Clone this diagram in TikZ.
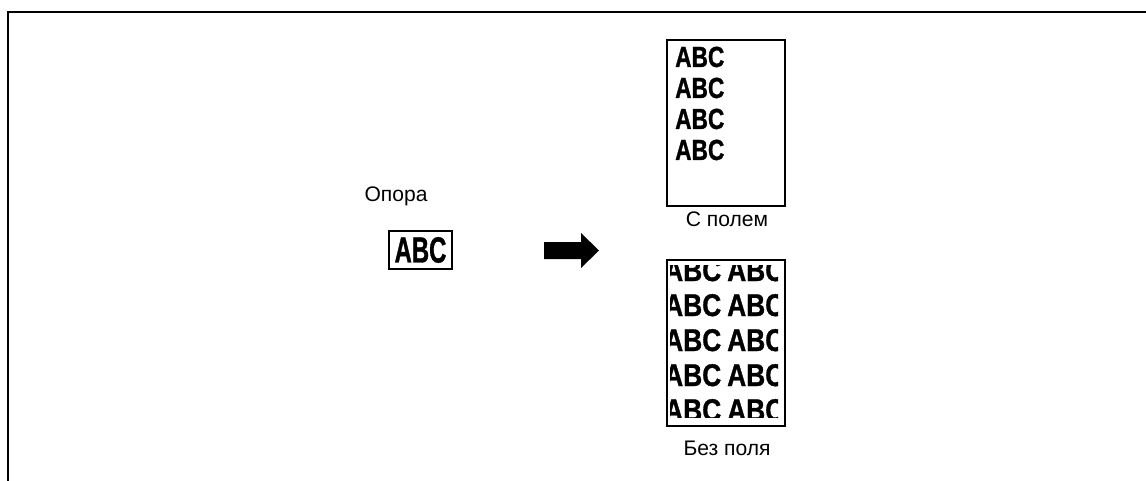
\documentclass[tikz,border=0pt]{standalone}
\usepackage{fontspec}
\setmainfont{Liberation Sans}
\newfontface\heavyfont[FakeBold=1.2]{Liberation Sans Bold}
\definecolor{inkblack}{HTML}{000000}

\begin{document}
\begin{tikzpicture}[x=0.75pt, y=-0.75pt, inkblack,
    caption/.style={font=\fontsize{15.8}{18}\selectfont, anchor=base, inner sep=0pt},
    sample/.style={font=\heavyfont\fontsize{21.8}{24}\selectfont, xscale=0.78, anchor=base west, inner sep=0pt},
    fullsample/.style={font=\heavyfont\fontsize{23.5}{26}\selectfont, xscale=0.84, anchor=base west, inner sep=0pt},
    sheet/.style={draw, line width=1.5pt, inner sep=0pt}]

    \useasboundingbox (0,0) rectangle (1146,481);

    % Frame
    \draw[line width=1.5pt] (8,481) -- (8,12) -- (1146,12);

    % Original
    \node[caption] (opora) at (396,202) {Опора};
    \node[sheet, minimum width=47.25pt, minimum height=28.5pt] (orig) at (420.5,250) {};
    \node[font=\heavyfont\fontsize{27.2}{30}\selectfont, xscale=0.66, inner sep=0pt] (origtext) at (orig) {ABC};

    % Arrow
    \fill (544,242) -- (581,242) -- (581,233) -- (599,250.5) -- (581,268) -- (581,259) -- (544,259) -- cycle;

    % With margin
    \node[sheet, minimum width=88.5pt, minimum height=124.5pt] (withmargin) at (726,123) {};
    \foreach \y [count=\i] in {67, 98, 129, 160} {
        \node[sample] (row\i) at (675,\y) {ABC};
    }
    \node[caption] (withcap) at (727,227) {С полем};

    % Without margin
    \node[sheet, minimum width=88.5pt, minimum height=124.5pt] (nomargin) at (726,343) {};
    \begin{scope}
        \clip (670,265) rectangle (778,417);
        \foreach \y [count=\i] in {281, 316, 351, 386, 421} {
            \node[fullsample] (left\i) at (664,\y) {ABC};
            \node[fullsample] (right\i) at (727,\y) {ABC};
        }
    \end{scope}
    \node[caption] (nocap) at (727,455) {Без поля};

\end{tikzpicture}
\end{document}
